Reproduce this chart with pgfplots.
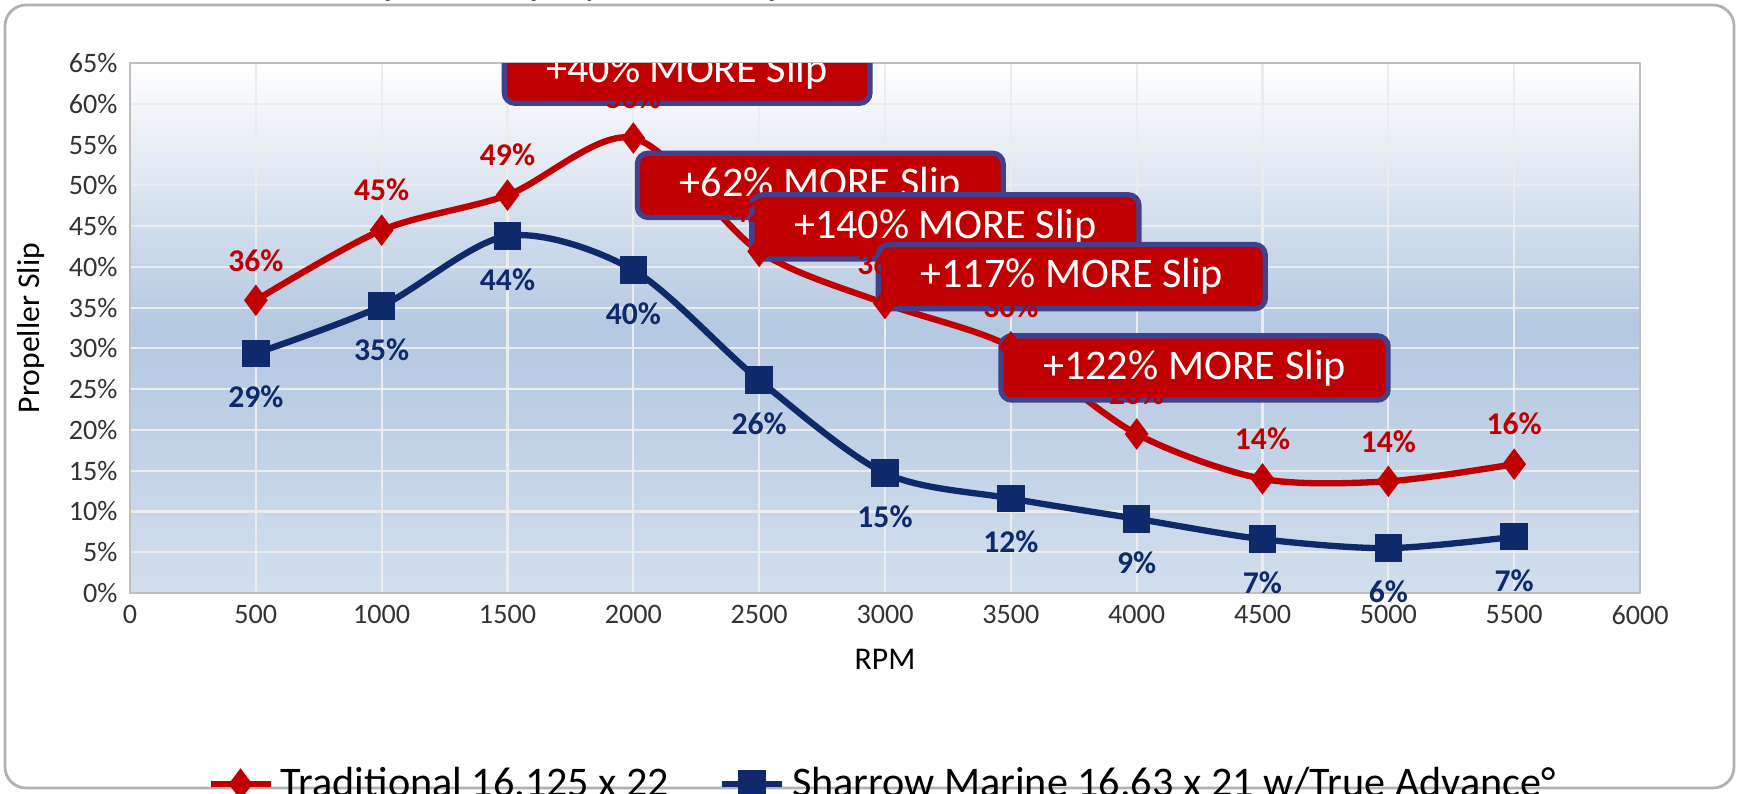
\documentclass[border=0pt]{standalone}
\usepackage{pgfplots}
\pgfplotsset{compat=1.18}
\usepackage{fontspec}
\setmainfont{Carlito}
\definecolor{tred}{HTML}{C00000}
\definecolor{navy}{HTML}{0F2A6B}
\definecolor{bgblue}{HTML}{B4C8E1}
\begin{document}
\begin{tikzpicture}
\path[use as bounding box] (-1.3,-2.0) rectangle (16.09,5.93);
\draw[rounded corners=6pt, gray!60, line width=0.8pt] (-1.25,-1.95) rectangle (16.04,5.88);
\begin{axis}[
  at={(0,0)}, anchor=south west,
  scale only axis, width=15.1cm, height=5.3cm,
  xmin=0, xmax=6000, ymin=0, ymax=65,
  xtick={0,500,...,6000},
  ytick={0,5,...,65},
  yticklabel={\pgfmathprintnumber{\tick}\%},
  /pgf/number format/assume math mode=true,
  xticklabel style={/pgf/number format/1000 sep={}},
  tick label style={font=\footnotesize, text=black!80},
  grid=major, grid style={white!85!gray, line width=0.6pt},
  axis line style={gray!50},
  tick style={draw=none},
  xlabel={RPM}, ylabel={Propeller Slip},
  label style={font=\small},
  title={\large\color{black!80}Propeller Slip by RPM - Cape Horn 34 XS / Twin Yamaha 425 XTO's},
  title style={yshift=8pt},
  axis background/.style={top color=white, bottom color=bgblue!60, middle color=bgblue},
  legend style={at={(0.5,-0.3)}, anchor=north, legend columns=2, draw=none, fill=none, font=\large, /tikz/every even column/.append style={column sep=1.2em}},
  legend cell align=left,
  nodes near coords={\pgfmathprintnumber[fixed,precision=0]{\pgfplotspointmeta}\%},
  point meta=y,
]
\addplot[tred, line width=1.8pt, smooth, mark=diamond*, mark size=3pt,
  every node near coord/.append style={font=\small\bfseries, text=tred, anchor=south, yshift=4pt}]
 coordinates {(500,35.9)(1000,44.5)(1500,48.8)(2000,55.8)(2500,41.9)(3000,35.5)(3500,30.2)(4000,19.5)(4500,14.0)(5000,13.7)(5500,15.8)};
\addlegendentry{Traditional 16.125 x 22}
\addplot[navy, line width=1.8pt, smooth, mark=square*, mark size=3pt,
  every node near coord/.append style={font=\small\bfseries, text=navy, anchor=north, yshift=-5pt}]
 coordinates {(500,29.4)(1000,35.2)(1500,43.8)(2000,39.6)(2500,26.1)(3000,14.7)(3500,11.6)(4000,9.1)(4500,6.6)(5000,5.5)(5500,6.9)};
\addlegendentry{Sharrow Marine 16.63 x 21 w/True Advance°}
\tikzset{callout/.style={fill=tred, draw=black!40!blue!50!gray, line width=1.5pt, rounded corners=3pt, text=white, font=\large, inner xsep=12pt, inner ysep=4pt}}
\node[callout] at (axis cs:2214,64) {+40\% MORE Slip};
\node[callout] at (axis cs:2743,50) {+62\% MORE Slip};
\node[callout] at (axis cs:3240,44.9) {+140\% MORE Slip};
\node[callout] at (axis cs:3742,38.8) {+117\% MORE Slip};
\node[callout] at (axis cs:4230,27.6) {+122\% MORE Slip};
\end{axis}
\end{tikzpicture}
\end{document}
